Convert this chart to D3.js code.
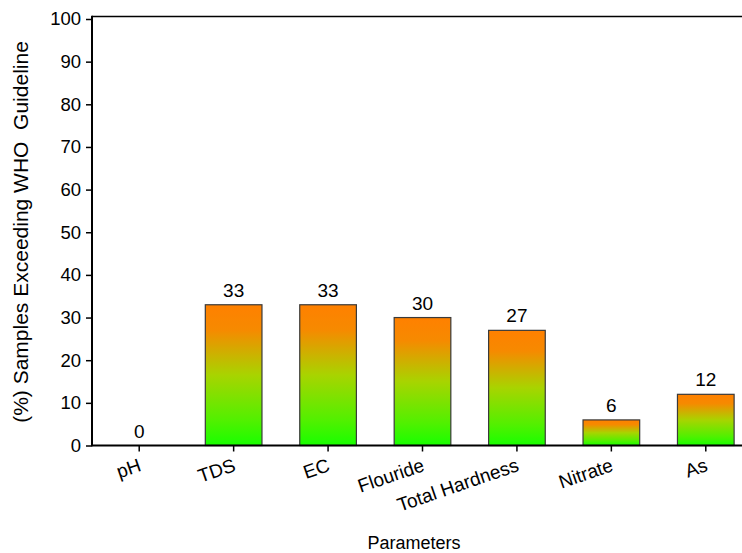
<!DOCTYPE html>
<html>
<head>
<meta charset="utf-8">
<script src="https://cdn.jsdelivr.net/npm/d3@7"></script>
<style>
  html, body { margin: 0; padding: 0; background: #fff; }
  svg { display: block; font-family: "Liberation Sans", Arial, sans-serif; }
</style>
</head>
<body>
<svg id="chart" width="742" height="553"></svg>
<script>
// Share of samples exceeding WHO guideline values, per parameter
const categories = ["pH", "TDS", "EC", "Flouride", "Total Hardness", "Nitrate", "As"];
const percentExceeding = [0, 33, 33, 30, 27, 6, 12];
const yTickValues = [0, 10, 20, 30, 40, 50, 60, 70, 80, 90, 100];

(function drawChart() {
  const svg = d3.select("#chart");
  const mLeft = 92, mBottom = 445.5, mTop = 19, frameTop = 16.5, mRight = 753;

  const x = d3.scaleBand()
    .domain(categories)
    .range([mLeft, mRight])
    .paddingInner(0.4)
    .paddingOuter(0.2);

  const y = d3.scaleLinear()
    .domain([0, 100])
    .range([mBottom, mTop]);

  // vertical orange-to-green fill used by every bar
  const defs = svg.append("defs");
  const grad = defs.append("linearGradient")
    .attr("id", "barFill")
    .attr("x1", 0).attr("y1", 0).attr("x2", 0).attr("y2", 1);
  [[0, "#ff8000"], [0.18, "#f68a00"], [0.5, "#a8d400"], [0.82, "#52f000"], [1, "#18ff00"]]
    .forEach(([o, c]) => grad.append("stop").attr("offset", o).attr("stop-color", c));

  const rows = categories.map((c, i) => ({ c, v: percentExceeding[i] }));

  // bars
  svg.append("g").selectAll("rect")
    .data(rows.filter(d => d.v > 0))
    .join("rect")
    .attr("x", d => x(d.c))
    .attr("y", d => y(d.v))
    .attr("width", x.bandwidth())
    .attr("height", d => y(0) - y(d.v))
    .attr("fill", "url(#barFill)")
    .attr("stroke", "#3a3a3a")
    .attr("stroke-width", 1.2);

  // value labels
  svg.append("g").selectAll("text")
    .data(rows)
    .join("text")
    .attr("x", d => x(d.c) + x.bandwidth() / 2)
    .attr("y", d => y(d.v) - 8)
    .attr("text-anchor", "middle")
    .attr("font-size", 19)
    .attr("fill", "#000")
    .text(d => d.v);

  // top frame line
  svg.append("line")
    .attr("x1", mLeft).attr("x2", 742)
    .attr("y1", frameTop).attr("y2", frameTop)
    .attr("stroke", "#000").attr("stroke-width", 1.5);

  // y axis
  const yAxis = d3.axisLeft(y).tickValues(yTickValues).tickSize(6).tickPadding(5);
  const gy = svg.append("g").attr("transform", `translate(${mLeft},0)`).call(yAxis);
  gy.select(".domain").remove();
  gy.selectAll(".tick line").attr("stroke", "#000").attr("stroke-width", 1.5);
  gy.selectAll(".tick text").attr("font-size", 18.5).attr("fill", "#000")
    .attr("font-family", "Liberation Sans, Arial, sans-serif");
  svg.append("line")
    .attr("x1", mLeft).attr("x2", mLeft)
    .attr("y1", frameTop - 0.75).attr("y2", mBottom + 0.75)
    .attr("stroke", "#000").attr("stroke-width", 2);

  // x axis
  const xAxis = d3.axisBottom(x).tickSize(6).tickFormat("");
  const gx = svg.append("g").attr("transform", `translate(0,${mBottom})`).call(xAxis);
  gx.select(".domain").remove();
  gx.selectAll(".tick line").attr("stroke", "#000").attr("stroke-width", 1.5);
  svg.append("line")
    .attr("x1", mLeft).attr("x2", 742)
    .attr("y1", mBottom).attr("y2", mBottom)
    .attr("stroke", "#000").attr("stroke-width", 2);

  // rotated category labels
  svg.append("g").selectAll("text")
    .data(categories)
    .join("text")
    .attr("transform", d => `translate(${x(d) + x.bandwidth() / 2 + 3},${mBottom + 25}) rotate(-19)`)
    .attr("text-anchor", "end")
    .attr("font-size", 19)
    .attr("fill", "#000")
    .text(d => d);

  // axis titles
  svg.append("text")
    .attr("x", 414).attr("y", 549)
    .attr("text-anchor", "middle")
    .attr("font-size", 18)
    .text("Parameters");

  svg.append("text")
    .attr("transform", "translate(28,232) rotate(-90)")
    .attr("text-anchor", "middle")
    .attr("font-size", 21)
    .style("white-space", "pre")
    .text("(%) Samples Exceeding WHO  Guideline");
})();
</script>
</body>
</html>
